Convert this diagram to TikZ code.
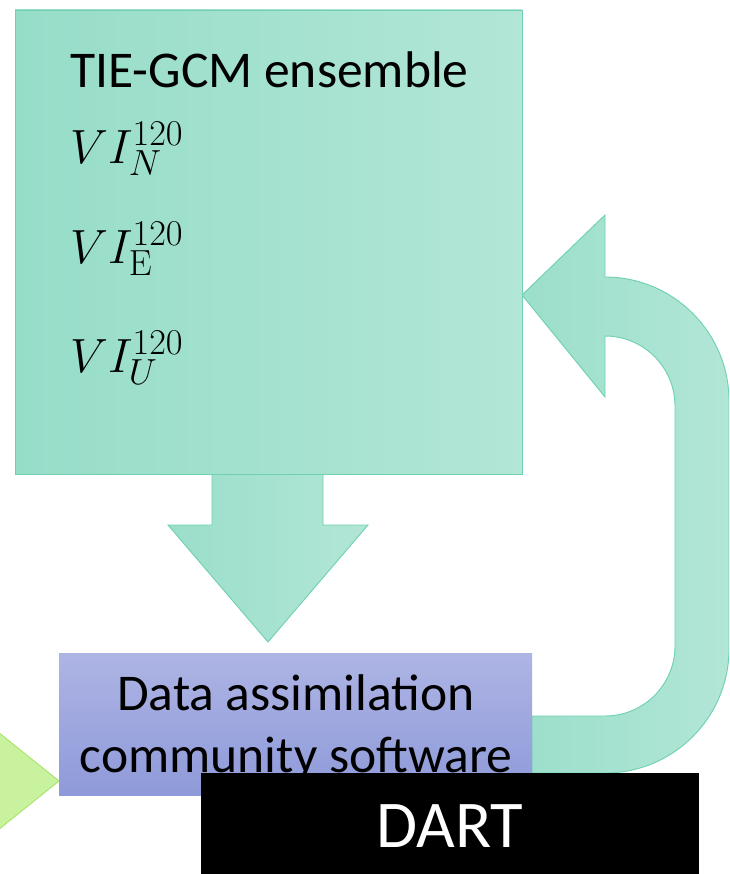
\documentclass[tikz,border=0pt]{standalone}
\usepackage{fix-cm}
\usepackage{amsmath}
\usepackage[no-math]{fontspec}
\setmainfont{Carlito}
\usepackage{tikz}
\usetikzlibrary{positioning}
\DeclareMathSizes{41}{41}{31}{23}

\definecolor{tealleft}{HTML}{96DDC8}
\definecolor{tealright}{HTML}{B2E6D7}
\definecolor{tealedge}{HTML}{6FD1B1}
\definecolor{daTop}{HTML}{AEB4E4}
\definecolor{daBottom}{HTML}{8E9AD9}
\definecolor{obsfill}{HTML}{C9F29E}
\definecolor{obsedge}{HTML}{A8E46C}

\tikzset{
  tealblock/.style={draw=tealedge, line width=0.8pt, left color=tealleft, right color=tealright},
  ensbox/.style={tealblock, anchor=north west, inner sep=0pt, outer sep=0pt, minimum width=15.21cm, minimum height=13.92cm},
  dabox/.style={draw=none, top color=daTop, bottom color=daBottom, anchor=north west, inner sep=0pt, outer sep=0pt, minimum width=14.19cm, minimum height=4.26cm},
  dartbox/.style={fill=black, text=white, anchor=north west, inner sep=0pt, outer sep=0pt, minimum width=14.94cm, minimum height=3.21cm, font=\fontsize{57}{60}\selectfont},
  bigtxt/.style={inner sep=0pt, font=\fontsize{44}{50}\selectfont},
  mathtxt/.style={inner sep=0pt, anchor=base west, font=\fontsize{41}{47}\selectfont}
}

\begin{document}
\begin{tikzpicture}[x=0.03cm,y=-0.03cm]
  \useasboundingbox (0,0) rectangle (729,874);
  \clip (0,0) rectangle (729,874);

  \draw [tealblock, left color=tealleft!85!tealright] (212,474) -- (212,525) -- (168,525) -- (268,642) -- (368,525) -- (323,525) -- (323,474) -- cycle;
  \draw [tealblock, left color=tealleft!80!tealright] (522,295) -- (605,215) -- (605,277) arc[start angle=-90, end angle=0, radius=124] -- (729,649) arc[start angle=0, end angle=90, radius=124] -- (532,773) -- (532,716) -- (605,716) arc[start angle=90, end angle=0, radius=70] -- (675,406) arc[start angle=0, end angle=-90, radius=70] -- (605,397) -- cycle;

  \node [ensbox] (ens) at (15,10) {};
  \node [bigtxt, anchor=base west] (enstitle) at (70,88) {TIE-GCM ensemble};
  \node [mathtxt] (vin) at (70,163) {$VI_{N}^{120}$};
  \node [mathtxt] (vie) at (70,263) {$VI_{\mathrm{E}}^{120}$};
  \node [mathtxt] (viu) at (70,372) {$VI_{U}^{120}$};

  \draw [draw=obsedge, line width=0.8pt, fill=obsfill] (-2,732) -- (59,781) -- (-2,830) -- cycle;

  \node [dabox] (da) at (59,653) {};
  \node [bigtxt, anchor=base] (daline1) at (296,710) {Data assimilation};
  \node [bigtxt, anchor=base] (daline2) at (296,772) {community software};

  \node [dartbox] (dart) at (201,773) {DART};
\end{tikzpicture}
\end{document}
